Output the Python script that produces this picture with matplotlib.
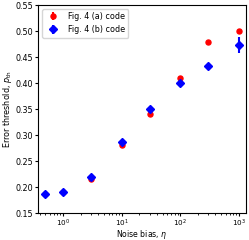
import matplotlib
matplotlib.use("Agg")
import matplotlib.pyplot as plt

eta = [0.5, 1, 3, 10, 30, 100, 300, 1000]
p_a = [0.187, 0.191, 0.215, 0.281, 0.341, 0.410, 0.478, 0.500]
err_a = [0.002, 0.002, 0.003, 0.003, 0.003, 0.003, 0.003, 0.003]
p_b = [0.187, 0.191, 0.219, 0.286, 0.350, 0.400, 0.433, 0.473]
err_b = [0.003, 0.003, 0.004, 0.004, 0.004, 0.004, 0.004, 0.015]

plt.rcParams['font.size'] = 5.8
fig = plt.figure(figsize=(2.49, 2.40), dpi=100)
ax = fig.add_axes([0.153, 0.112, 0.836, 0.867])
ax.errorbar(eta, p_a, yerr=err_a, fmt='o', color='red', ms=3.6, label='Fig. 4 (a) code')
ax.errorbar(eta, p_b, yerr=err_b, fmt='D', color='blue', ms=3.6, label='Fig. 4 (b) code')
ax.set_xscale('log')
ax.set_ylim(0.15, 0.55)
ax.set_xlim(0.377, 1340)
ax.tick_params(length=2.4, pad=1.0)
ax.tick_params(which='minor', length=1.4)
ax.tick_params(axis='x', which='major', labelsize=5.2, pad=0.8)
ax.set_xlabel(r'Noise bias, $\eta$', fontsize=5.6)
ax.xaxis.set_label_coords(0.5, -0.07)
ax.set_ylabel(r'Error threshold, $p_{\rm th}$', labelpad=1.5)
ax.legend(loc='upper left', fontsize=5.8)
fig.savefig('out.png', dpi=100)
